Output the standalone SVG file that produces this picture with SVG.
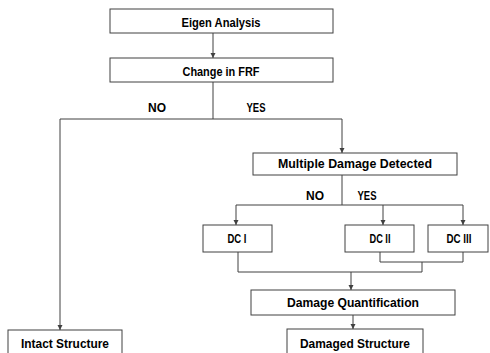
<svg xmlns="http://www.w3.org/2000/svg" width="490" height="353" viewBox="0 0 490 353">
<style>
.box{fill:#fff;stroke:#404040;stroke-width:1}
.ln{fill:none;stroke:#404040;stroke-width:1}
text{font-family:"Liberation Sans",Arial,sans-serif;font-weight:bold;font-size:13px;fill:#000;text-anchor:middle}
</style>
<defs>
<marker id="ah" markerWidth="6" markerHeight="6" refX="5" refY="3" orient="auto" markerUnits="userSpaceOnUse">
<path d="M0,0.5 L5,3 L0,5.5 Z" fill="#404040"/>
</marker>
</defs>
<rect width="490" height="353" fill="#fff"/>
<g id="connectors">
<line class="ln" x1="213" y1="33" x2="213" y2="58" marker-end="url(#ah)"/>
<line class="ln" x1="213" y1="82" x2="213" y2="119"/>
<polyline class="ln" points="213,119 60,119 60,330" marker-end="url(#ah)"/>
<polyline class="ln" points="213,119 342,119 342,153" marker-end="url(#ah)"/>
<line class="ln" x1="342" y1="175" x2="342" y2="205"/>
<polyline class="ln" points="342,205 236,205 236,225" marker-end="url(#ah)"/>
<polyline class="ln" points="342,205 463,205 463,225" marker-end="url(#ah)"/>
<line class="ln" x1="383" y1="205" x2="383" y2="225" marker-end="url(#ah)"/>
<polyline class="ln" points="238,252 238,272 422,272 422,262"/>
<polyline class="ln" points="380,252 380,262 463,262 463,252"/>
<line class="ln" x1="351" y1="272" x2="351" y2="290" marker-end="url(#ah)"/>
<line class="ln" x1="353" y1="315" x2="353" y2="329" marker-end="url(#ah)"/>
</g>
<g id="eigen"><rect class="box" x="110" y="9" width="223" height="24"/><text x="221" y="27" textLength="79" lengthAdjust="spacingAndGlyphs">Eigen Analysis</text></g>
<g id="frf"><rect class="box" x="110" y="58" width="223" height="24"/><text x="221" y="76" textLength="77" lengthAdjust="spacingAndGlyphs">Change in FRF</text></g>
<g id="lbl1"><text x="157" y="112" textLength="18" lengthAdjust="spacingAndGlyphs">NO</text><text x="256" y="112" textLength="19" lengthAdjust="spacingAndGlyphs">YES</text></g>
<g id="multiple"><rect class="box" x="253" y="153" width="204" height="22"/><text x="355" y="168" textLength="154" lengthAdjust="spacingAndGlyphs">Multiple Damage  Detected</text></g>
<g id="lbl2"><text x="315" y="200" textLength="18" lengthAdjust="spacingAndGlyphs">NO</text><text x="367" y="200" textLength="19" lengthAdjust="spacingAndGlyphs">YES</text></g>
<g id="dc1"><rect class="box" x="203" y="225" width="69" height="27"/><text x="237" y="243" textLength="19" lengthAdjust="spacingAndGlyphs">DC I</text></g>
<g id="dc2"><rect class="box" x="345" y="225" width="69" height="27"/><text x="380" y="243" textLength="21" lengthAdjust="spacingAndGlyphs">DC II</text></g>
<g id="dc3"><rect class="box" x="428" y="225" width="60" height="27"/><text x="459" y="243" textLength="25" lengthAdjust="spacingAndGlyphs">DC III</text></g>
<g id="quant"><rect class="box" x="251" y="290" width="204" height="25"/><text x="353" y="307" textLength="132" lengthAdjust="spacingAndGlyphs">Damage Quantification</text></g>
<g id="damaged"><rect class="box" x="287" y="329" width="136" height="30"/><text x="355" y="348" textLength="110" lengthAdjust="spacingAndGlyphs">Damaged Structure</text></g>
<g id="intact"><rect class="box" x="8" y="330" width="114" height="30"/><text x="65" y="348" textLength="88" lengthAdjust="spacingAndGlyphs">Intact Structure</text></g>
</svg>
